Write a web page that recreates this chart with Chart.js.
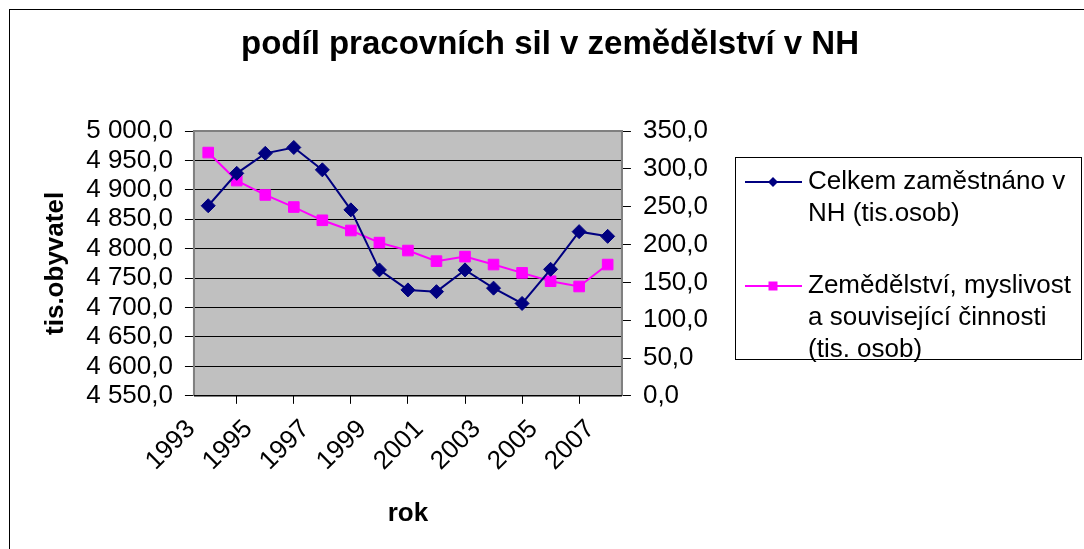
<!DOCTYPE html>
<html>
<head>
<meta charset="utf-8">
<script src="https://cdn.jsdelivr.net/npm/chart.js@4.4.1/dist/chart.umd.min.js"></script>
<style>
  html, body { margin: 0; padding: 0; background: #fff; }
  #wrap { position: relative; width: 1084px; height: 549px; }
</style>
</head>
<body>
<div id="wrap"><canvas id="chart" width="1084" height="549"></canvas></div>
<script>
const years = ['1993','1994','1995','1996','1997','1998','1999','2000','2001','2002','2003','2004','2005','2006','2007'];
const employedTotal = [4873, 4928, 4962, 4972, 4934, 4866, 4764, 4730, 4727, 4764, 4733, 4707, 4765, 4829, 4821];
const agriculture = [321.5, 284.5, 265.5, 249.5, 232, 218.5, 202.5, 192, 178, 184, 173.5, 162.5, 151.5, 144.5, 173.5];
const legendLines = [
  ['Celkem zaměstnáno v', 'NH (tis.osob)'],
  ['Zemědělství, myslivost', 'a související činnosti', '(tis. osob)']
];
const titleText = 'podíl pracovních sil v zemědělství v NH';
const leftTitle = 'tis.obyvatel';
const bottomTitle = 'rok';

const FONT = '"Liberation Sans", Arial, sans-serif';
const navy = '#000080';
const pink = '#ff00ff';

function fmt(v) {
  const parts = v.toFixed(1).split('.');
  return parts[0].replace(/\B(?=(\d{3})+(?!\d))/g, ' ') + ',' + parts[1];
}

// gray plot area, outer frame and centred title
const backdrop = {
  id: 'backdrop',
  beforeDraw(chart) {
    const { ctx, chartArea: a } = chart;
    ctx.save();
    ctx.strokeStyle = '#000';
    ctx.lineWidth = 1;
    ctx.strokeRect(9.5, 9.5, 3000, 3000);
    ctx.fillStyle = '#c0c0c0';
    ctx.fillRect(a.left, a.top, a.right - a.left, a.bottom - a.top);
    ctx.fillStyle = '#000';
    ctx.font = 'bold 33px ' + FONT;
    ctx.textAlign = 'center';
    ctx.textBaseline = 'alphabetic';
    ctx.fillText(titleText, 550, 54);
    ctx.restore();
  },
  beforeDatasetsDraw(chart) {
    const { ctx, chartArea: a } = chart;
    ctx.save();
    ctx.strokeStyle = '#808080';
    ctx.lineWidth = 2;
    ctx.beginPath();
    ctx.moveTo(a.left, a.bottom); ctx.lineTo(a.left, a.top);
    ctx.lineTo(a.right, a.top); ctx.lineTo(a.right, a.bottom);
    ctx.stroke();
    ctx.strokeStyle = '#000';
    ctx.lineWidth = 1.5;
    ctx.beginPath();
    ctx.moveTo(a.left, a.bottom); ctx.lineTo(a.right, a.bottom);
    ctx.stroke();
    ctx.restore();
  }
};

// legend box with wrapped text
const boxLegend = {
  id: 'boxLegend',
  afterDraw(chart) {
    const { ctx } = chart;
    const bx = 735.5, by = 157.5, bw = 346, bh = 202;
    const rows = [182, 286];
    const lh = 32;
    ctx.save();
    ctx.strokeStyle = '#000';
    ctx.lineWidth = 1;
    ctx.strokeRect(bx, by, bw, bh);
    chart.data.datasets.forEach((ds, i) => {
      const y = rows[i];
      ctx.strokeStyle = ds.borderColor;
      ctx.lineWidth = 2;
      ctx.beginPath();
      ctx.moveTo(745, y); ctx.lineTo(802, y);
      ctx.stroke();
      ctx.fillStyle = ds.pointBackgroundColor;
      ctx.beginPath();
      if (ds.pointStyle === 'rectRot') {
        ctx.moveTo(773 - 5, y); ctx.lineTo(773, y - 5); ctx.lineTo(773 + 5, y); ctx.lineTo(773, y + 5);
        ctx.closePath();
      } else {
        ctx.rect(773 - 4.5, y - 4.5, 9, 9);
      }
      ctx.fill();
      ctx.fillStyle = '#000';
      ctx.font = '26px ' + FONT;
      ctx.textBaseline = 'middle';
      ctx.textAlign = 'left';
      legendLines[i].forEach((t, k) => ctx.fillText(t, 808, y + k * lh));
    });
    ctx.restore();
  }
};

new Chart(document.getElementById('chart'), {
  type: 'line',
  data: {
    labels: years,
    datasets: [
      {
        label: legendLines[0].join(' '),
        data: employedTotal,
        yAxisID: 'y',
        borderColor: navy,
        backgroundColor: navy,
        pointBackgroundColor: navy,
        pointBorderColor: navy,
        borderWidth: 2,
        pointStyle: 'rectRot',
        pointRadius: 7,
        pointBorderWidth: 1,
        tension: 0
      },
      {
        label: legendLines[1].join(' '),
        data: agriculture,
        yAxisID: 'y1',
        borderColor: pink,
        backgroundColor: pink,
        pointBackgroundColor: pink,
        pointBorderColor: pink,
        borderWidth: 2,
        pointStyle: 'rect',
        pointRadius: 7.5,
        pointBorderWidth: 1,
        tension: 0
      }
    ]
  },
  options: {
    responsive: false,
    animation: false,
    layout: { padding: { left: 36, right: 364, top: 131, bottom: 20 } },
    plugins: {
      legend: { display: false },
      tooltip: { enabled: false },
      title: { display: false }
    },
    scales: {
      x: {
        offset: true,
        grid: { offset: true, drawOnChartArea: false, color: '#000', tickLength: 8, tickColor: '#000' },
        border: { color: '#000', width: 1 },
        ticks: {
          autoSkip: false,
          minRotation: 45,
          maxRotation: 45,
          color: '#000',
          font: { family: FONT, size: 26 },
          padding: 10,
          labelOffset: -17,
          callback: (v, i) => (i % 2 === 0 ? years[i] : null)
        },
        title: { display: true, text: bottomTitle, color: '#000', font: { family: FONT, size: 26, weight: 'bold' }, padding: { top: 11, bottom: 0 } }
      },
      y: {
        position: 'left',
        min: 4550,
        max: 5000,
        grid: { color: '#000', lineWidth: 1, tickLength: 9, tickColor: '#000' },
        border: { color: '#808080', width: 2 },
        ticks: { autoSkip: false, stepSize: 50, color: '#000', font: { family: FONT, size: 26 }, padding: 12, callback: v => fmt(v) },
        title: { display: true, text: leftTitle, color: '#000', font: { family: FONT, size: 26, weight: 'bold' }, padding: { top: 4, bottom: 3 } }
      },
      y1: {
        position: 'right',
        min: 0,
        max: 350,
        grid: { drawOnChartArea: false, tickLength: 9, tickColor: '#000' },
        border: { color: '#808080', width: 2 },
        ticks: { autoSkip: false, stepSize: 50, color: '#000', font: { family: FONT, size: 26 }, padding: 12, callback: v => fmt(v) }
      }
    }
  },
  plugins: [backdrop, boxLegend]
});
</script>
</body>
</html>
